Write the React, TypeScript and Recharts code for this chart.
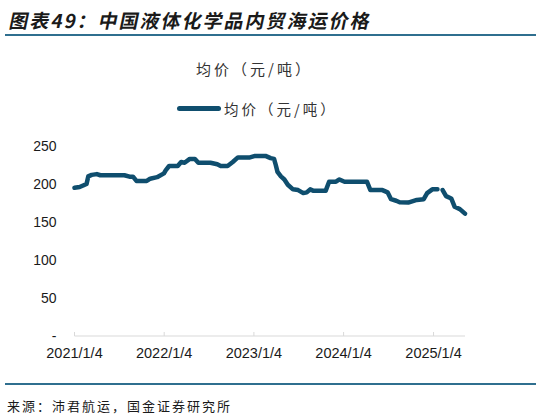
import { Line, LineChart, XAxis, YAxis } from "recharts";

const dates = [
  "2021/1/4", "2021/1/25", "2021/2/15", "2021/2/22", "2021/3/1", "2021/3/15",
  "2021/4/5", "2021/4/19", "2021/7/26", "2021/8/16", "2021/8/30", "2021/9/13",
  "2021/10/25", "2021/11/8", "2021/12/6", "2022/1/3", "2022/1/10", "2022/1/24",
  "2022/2/28", "2022/3/14", "2022/3/28", "2022/4/18", "2022/5/9", "2022/5/23",
  "2022/7/11", "2022/8/8", "2022/8/22", "2022/9/19", "2022/10/10", "2022/10/31",
  "2022/12/19", "2023/1/9", "2023/2/20", "2023/3/13", "2023/3/27", "2023/4/3",
  "2023/4/10", "2023/4/24", "2023/5/8", "2023/5/22", "2023/6/12", "2023/7/3",
  "2023/7/24", "2023/8/7", "2023/8/21", "2023/9/4", "2023/10/23", "2023/11/6",
  "2023/12/4", "2023/12/18", "2024/1/8", "2024/4/8", "2024/4/22", "2024/6/10",
  "2024/7/1", "2024/7/15", "2024/8/5", "2024/8/19", "2024/9/23", "2024/10/28",
  "2024/11/25", "2024/12/9", "2024/12/30", "2025/1/20", "2025/1/27", "2025/2/10",
  "2025/2/24", "2025/3/17", "2025/3/31", "2025/4/21", "2025/5/12",
];

const prices: (number | null)[] = [
  195, 196, 199, 200, 210, 212,
  213, 211.5, 211.5, 209.6, 209.6, 204,
  204, 207, 209, 214, 218, 223.7,
  223.7, 229, 228, 233, 233, 228,
  228, 226, 223.7, 223.7, 229, 235,
  235, 237, 237, 234, 233, 225,
  216, 210, 206, 199, 193, 192,
  188, 189, 193, 191, 191, 203,
  203, 206, 203, 203, 192, 192,
  189, 180, 178, 176, 175.5, 179,
  180, 188, 193, 193, null, 192,
  184, 181, 170, 167, 161,
];

const tickDates = ["2021/1/4", "2022/1/4", "2023/1/4", "2024/1/4", "2025/1/4"];
const yTicks = [0, 50, 100, 150, 200, 250];

const DAY = 86400000;
const toDay = (s: string) => {
  const [y, m, d] = s.split("/").map(Number);
  return Math.round((Date.UTC(y, m - 1, d) - Date.UTC(2021, 0, 4)) / DAY);
};
const fromDay = (n: number) => {
  const dt = new Date(Date.UTC(2021, 0, 4) + n * DAY);
  return `${dt.getUTCFullYear()}/${dt.getUTCMonth() + 1}/${dt.getUTCDate()}`;
};

const data = dates.map((d, i) => ({ t: toDay(d), price: prices[i] }));
const xTicks = tickDates.map(toDay);

const LINE = "#0f4e6e";
const RULE = "#2f6f8f";
const CJK = "'Noto Sans CJK SC', 'Noto Sans', sans-serif";
const LATIN = "'Liberation Sans', Arial, sans-serif";

export default function App() {
  return (
    <div
      style={{
        position: "absolute",
        left: 0,
        top: 0,
        width: 541,
        height: 416,
        background: "#fff",
        overflow: "hidden",
      }}
    >
      <div
        style={{
          position: "absolute",
          left: 10,
          top: 6,
          fontFamily: CJK,
          fontWeight: 700,
          fontSize: 19,
          letterSpacing: 2,
          transform: "skewX(-12deg)",
          color: "#1a1a1a",
          whiteSpace: "nowrap",
        }}
      >
        图表49：中国液体化学品内贸海运价格
      </div>
      <div style={{ position: "absolute", left: 5, top: 34, width: 531, height: 2, background: RULE }} />

      <div
        style={{
          position: "absolute",
          left: 196,
          top: 58,
          fontFamily: CJK,
          fontSize: 15,
          letterSpacing: 3,
          color: "#333",
          whiteSpace: "nowrap",
        }}
      >
        均价（元/吨）
      </div>

      <div
        style={{
          position: "absolute",
          left: 177,
          top: 98,
          display: "flex",
          alignItems: "center",
          fontFamily: CJK,
          fontSize: 14.5,
          letterSpacing: 3,
          color: "#333",
          whiteSpace: "nowrap",
        }}
      >
        <span style={{ width: 44, height: 5, borderRadius: 3, background: LINE, marginRight: 3 }} />
        均价（元/吨）
      </div>

      <div style={{ position: "absolute", left: 0, top: 0 }}>
        <LineChart
          width={541}
          height={416}
          data={data}
          margin={{ top: 146, right: 76, bottom: 50, left: 24.5 }}
        >
          <XAxis
            dataKey="t"
            type="number"
            domain={["dataMin", "dataMax"]}
            ticks={xTicks}
            tickFormatter={fromDay}
            interval={0}
            height={30}
            axisLine={{ stroke: "#d9d9d9" }}
            tickLine={{ stroke: "#d9d9d9" }}
            tickSize={-4}
            tickMargin={16}
            tick={{ fill: "#1a1a1a", fontSize: 14.5, fontFamily: LATIN }}
          />
          <YAxis
            domain={[0, 250]}
            ticks={yTicks}
            width={50}
            axisLine={false}
            tickLine={false}
            tickMargin={12}
            tickFormatter={(v: number) => (v === 0 ? "-" : String(v))}
            tick={{ fill: "#1a1a1a", fontSize: 14, fontFamily: LATIN }}
          />
          <Line
            dataKey="price"
            stroke={LINE}
            strokeWidth={4.5}
            dot={false}
            connectNulls={false}
            strokeLinejoin="round"
            strokeLinecap="round"
            isAnimationActive={false}
          />
        </LineChart>
      </div>

      <div style={{ position: "absolute", left: 5, top: 383, width: 531, height: 1.5, background: RULE }} />
      <div
        style={{
          position: "absolute",
          left: 7,
          top: 396,
          fontFamily: CJK,
          fontSize: 13,
          letterSpacing: 2,
          color: "#1a1a1a",
          whiteSpace: "nowrap",
        }}
      >
        来源：沛君航运，国金证券研究所
      </div>
    </div>
  );
}
